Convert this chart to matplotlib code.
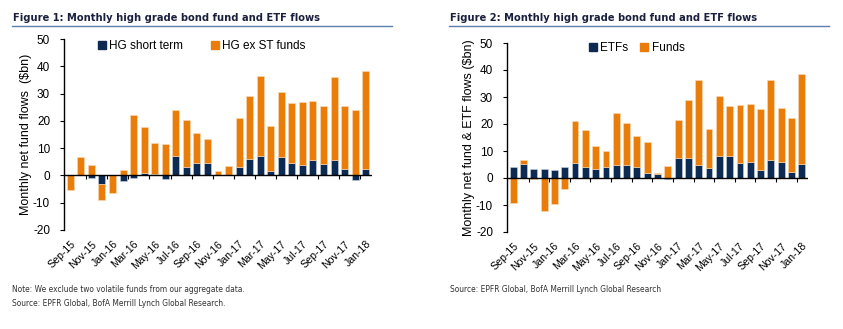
import numpy as np
import matplotlib
matplotlib.use("Agg")
import matplotlib.pyplot as plt
from matplotlib.lines import Line2D

plt.rcParams['font.family'] = ['Liberation Sans', 'DejaVu Sans']
plt.rcParams['axes.unicode_minus'] = False

# ---- data ----
months = ['Sep-15', 'Oct-15', 'Nov-15', 'Dec-15', 'Jan-16', 'Feb-16', 'Mar-16', 'Apr-16',
          'May-16', 'Jun-16', 'Jul-16', 'Aug-16', 'Sep-16', 'Oct-16', 'Nov-16', 'Dec-16',
          'Jan-17', 'Feb-17', 'Mar-17', 'Apr-17', 'May-17', 'Jun-17', 'Jul-17', 'Aug-17',
          'Sep-17', 'Oct-17', 'Nov-17', 'Dec-17', 'Jan-18']

hg_short_term = [0.0, 0.0, -1.0, -3.2, 0.0, -2.2, -1.0, 1.0, 0.4, -1.3, 7.0, 3.0, 4.5, 4.5,
                 0.2, 0.1, 3.0, 6.0, 7.0, 1.8, 6.8, 4.5, 3.8, 5.5, 4.3, 5.7, 2.5, -1.8, 2.3]
hg_ex_st = [-5.5, 6.7, 3.7, -5.8, -6.5, 2.0, 22.0, 16.7, 11.6, 11.5, 17.0, 17.3, 11.1, 8.8,
            1.4, 3.5, 18.2, 23.0, 29.3, 16.2, 23.6, 22.0, 23.0, 21.9, 21.0, 30.5, 23.1, 24.0, 36.1]

etfs = [4.0, 5.2, 3.5, 3.5, 3.1, 4.1, 5.5, 4.2, 3.4, 4.2, 4.8, 5.0, 4.2, 1.8, 1.6, -0.4,
        7.5, 7.5, 4.8, 3.8, 8.2, 8.0, 5.6, 6.0, 3.1, 6.8, 5.8, 2.2, 5.3]
funds = [-9.2, 1.5, -0.5, -12.3, -9.6, -4.2, 15.5, 13.6, 8.6, 5.8, 19.2, 15.3, 11.4, 11.6,
         0.1, 4.3, 13.8, 21.5, 31.5, 14.2, 22.2, 18.6, 21.3, 21.5, 22.3, 29.4, 20.0, 20.0, 33.1]

NAVY = '#0c2a52'
ORANGE = '#ea7c0a'
TITLE_C = '#1a1f3d'
RULE_C = '#5b7fae'


def stacked(ax, a, b):
    x = np.arange(len(a))
    a = np.array(a)
    b = np.array(b)
    # second series sits on the first only when both have the same sign
    bot = np.where((a >= 0) == (b >= 0), a, 0)
    ax.bar(x, a, width=0.66, color=NAVY, edgecolor='#c9d3e0', linewidth=0.4, zorder=2)
    ax.bar(x, b, bottom=bot, width=0.66, color=ORANGE, edgecolor='#f8dcb8', linewidth=0.4, zorder=2)
    ax.axhline(0, color='black', lw=1.0, zorder=3)
    ax.set_xlim(-0.6, len(a) - 0.4)
    ax.set_ylim(-20, 50)
    ax.set_yticks(range(-20, 51, 10))
    for s in ['top', 'right', 'bottom']:
        ax.spines[s].set_visible(False)
    ax.spines['left'].set_linewidth(1.0)
    ax.tick_params(axis='y', length=3, width=0.8, pad=7, labelsize=8.5)
    ax.set_xticks(x[::2])
    ax.set_xticklabels(months[::2], rotation=45, ha='right', rotation_mode='anchor', fontsize=7.6)
    ax.tick_params(axis='x', length=0, pad=6.5)
    # small ticks on the zero line between categories
    sec = ax.secondary_xaxis(20 / 70)
    sec.set_xticks(np.arange(1.5, len(a) - 1, 2))
    sec.set_xticklabels([])
    sec.tick_params(length=3, width=0.8, direction='out')
    sec.spines['bottom'].set_visible(False)


fig = plt.figure(figsize=(8.43, 3.29), dpi=100)

ax1 = fig.add_axes([64 / 843, 1 - 230 / 329, 308 / 843, 191 / 329])
stacked(ax1, hg_short_term, hg_ex_st)
ax1.set_ylabel('Monthly net fund flows  ($bn)', fontsize=9, labelpad=1)

ax2 = fig.add_axes([507 / 843, 1 - 232 / 329, 301 / 843, 189 / 329])
stacked(ax2, etfs, funds)
ax2.set_ylabel('Monthly net fund & ETF flows ($bn)', fontsize=9, labelpad=1)

# legends
h_n = Line2D([], [], marker='s', ls='', color=NAVY, markersize=6)
h_o = Line2D([], [], marker='s', ls='', color=ORANGE, markersize=6)
ax1.legend([h_n, h_o], ['HG short term', 'HG ex ST funds'], ncol=2, frameon=False,
           fontsize=8.5, loc='upper left', bbox_to_anchor=(0.07, 1.05),
           handletextpad=0.1, columnspacing=2.2, handlelength=1.0)
ax2.legend([h_n, h_o], ['ETFs', 'Funds'], ncol=2, frameon=False,
           fontsize=8.5, loc='upper left', bbox_to_anchor=(0.23, 1.06),
           handletextpad=0.1, columnspacing=0.9, handlelength=1.0)

# titles and rules
fig.text(13 / 843, 1 - 21 / 329, 'Figure 1: Monthly high grade bond fund and ETF flows',
         fontsize=7.9, fontweight='bold', fontstretch='condensed', color=TITLE_C, family='DejaVu Sans')
fig.text(450 / 843, 1 - 21 / 329, 'Figure 2: Monthly high grade bond fund and ETF flows',
         fontsize=7.9, fontweight='bold', fontstretch='condensed', color=TITLE_C, family='DejaVu Sans')
fig.add_artist(Line2D([12 / 843, 392 / 843], [1 - 26 / 329, 1 - 26 / 329], color=RULE_C, lw=1.0))
fig.add_artist(Line2D([449 / 843, 829 / 843], [1 - 26 / 329, 1 - 26 / 329], color=RULE_C, lw=1.0))

# notes
fig.text(12 / 843, 1 - 292 / 329, 'Note: We exclude two volatile funds from our aggregate data.',
         fontsize=6.0, fontstretch='condensed', color='#333333', family='DejaVu Sans')
fig.text(12 / 843, 1 - 306 / 329, 'Source: EPFR Global, BofA Merrill Lynch Global Research.',
         fontsize=6.0, fontstretch='condensed', color='#333333', family='DejaVu Sans')
fig.text(450 / 843, 1 - 292 / 329, 'Source: EPFR Global, BofA Merrill Lynch Global Research',
         fontsize=6.0, fontstretch='condensed', color='#333333', family='DejaVu Sans')

fig.savefig('out.png', dpi=100)
